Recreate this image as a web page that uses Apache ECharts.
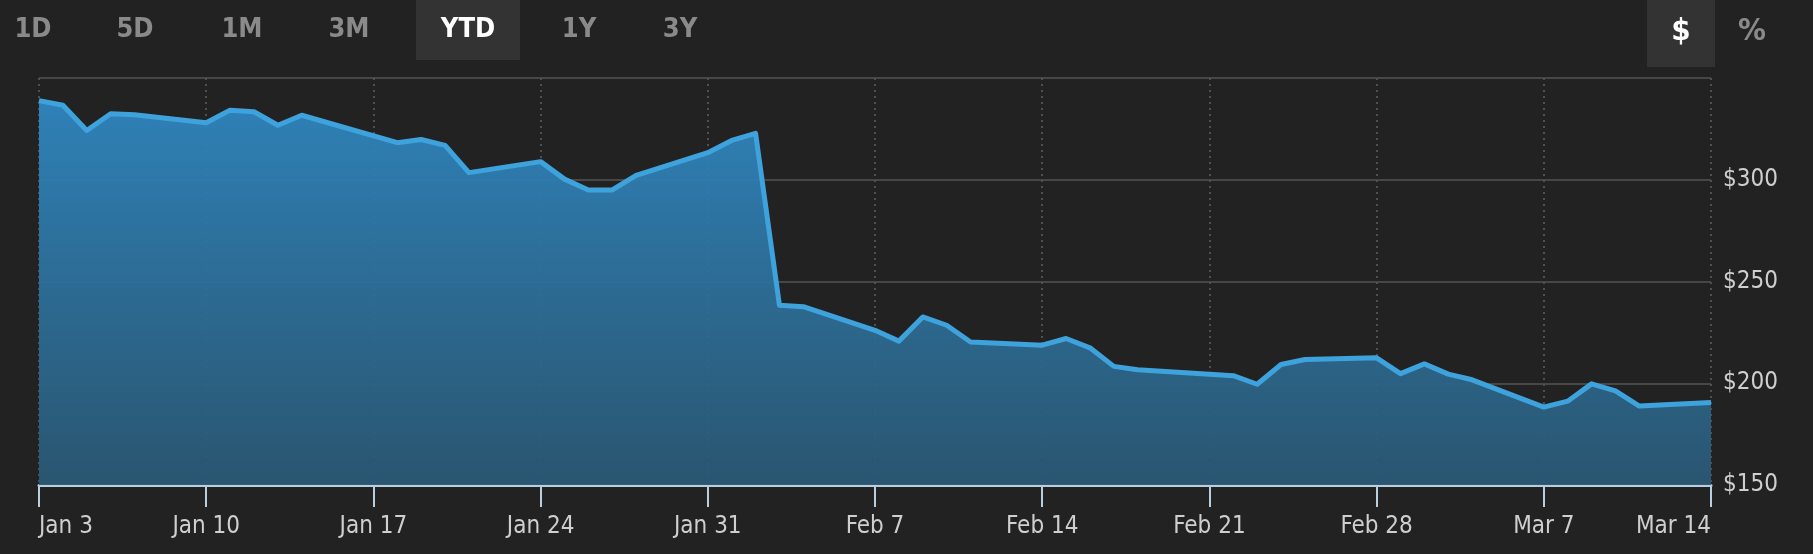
<!DOCTYPE html>
<html>
<head>
<meta charset="utf-8">
<script src="https://cdn.jsdelivr.net/npm/echarts@6/dist/echarts.min.js"></script>
<style>
html,body{margin:0;padding:0;background:#222222;}
#chart{width:1813px;height:554px;}
</style>
</head>
<body>
<div id="chart"></div>
<script>
// ---- data ----
const dates = [
  '2022-01-03','2022-01-04','2022-01-05','2022-01-06','2022-01-07',
  '2022-01-10','2022-01-11','2022-01-12','2022-01-13','2022-01-14',
  '2022-01-18','2022-01-19','2022-01-20','2022-01-21',
  '2022-01-24','2022-01-25','2022-01-26','2022-01-27','2022-01-28',
  '2022-01-31','2022-02-01','2022-02-02','2022-02-03','2022-02-04',
  '2022-02-07','2022-02-08','2022-02-09','2022-02-10','2022-02-11',
  '2022-02-14','2022-02-15','2022-02-16','2022-02-17','2022-02-18',
  '2022-02-22','2022-02-23','2022-02-24','2022-02-25',
  '2022-02-28','2022-03-01','2022-03-02','2022-03-03','2022-03-04',
  '2022-03-07','2022-03-08','2022-03-09','2022-03-10','2022-03-11',
  '2022-03-14'
];
const prices = [
  338.9, 336.6, 324.2, 332.4, 331.9,
  328.0, 334.2, 333.4, 326.8, 331.7,
  318.2, 319.8, 316.9, 303.5,
  308.9, 300.3, 295.0, 295.0, 302.2,
  313.3, 319.3, 322.8, 238.3, 237.6,
  226.0, 220.7, 232.6, 228.5, 220.3,
  218.7, 222.0, 217.4, 208.3, 206.6,
  203.7, 199.5, 209.2, 211.7,
  212.5, 204.7, 209.5, 204.5, 201.7,
  188.3, 191.2, 199.7, 196.3, 188.8,
  190.5
];
const xTickLabels = ['Jan 3','Jan 10','Jan 17','Jan 24','Jan 31','Feb 7','Feb 14','Feb 21','Feb 28','Mar 7','Mar 14'];
const yTicks = [150, 200, 250, 300, 350];
const rangeButtons = ['1D','5D','1M','3M','YTD','1Y','3Y'];
const activeRange = 'YTD';
const unitButtons = ['$','%'];
const activeUnit = '$';

// ---- build ----
const DAY = 86400000;
const t0 = Date.parse(dates[0]);
const seriesData = dates.map((d, i) => [(Date.parse(d) - t0) / DAY, prices[i]]);
const xMax = (xTickLabels.length - 1) * 7;

const labelFont = "'DejaVu Sans Condensed', 'Liberation Sans Narrow', sans-serif";
const btnFont = "'DejaVu Sans Condensed', 'Liberation Sans Narrow', sans-serif";

const btnX = [33, 135, 242, 349, 468, 579, 680];
const unitX = [1681, 1752];
const graphics = [];
rangeButtons.forEach((b, i) => {
  if (b === activeRange) {
    graphics.push({type:'rect', left: btnX[i]-52, top: 0, shape:{width:104, height:60}, style:{fill:'#333333'}, z:1});
  }
  graphics.push({type:'text', x: btnX[i], y: 30, z:2, style:{
    text: b, fill: b === activeRange ? '#ffffff' : '#8a8a8a',
    font: 'bold 27px ' + btnFont, textAlign:'center', textVerticalAlign:'middle'
  }});
});
unitButtons.forEach((b, i) => {
  if (b === activeUnit) {
    graphics.push({type:'rect', left: unitX[i]-34, top: 0, shape:{width:68, height:67}, style:{fill:'#333333'}, z:1});
  }
  graphics.push({type:'text', x: unitX[i], y: 32, z:2, style:{
    text: b, fill: b === activeUnit ? '#ffffff' : '#8a8a8a',
    font: 'bold 31px ' + btnFont, textAlign:'center', textVerticalAlign:'middle'
  }});
});

const chart = echarts.init(document.getElementById('chart'), null, {renderer:'canvas'});
chart.setOption({
  backgroundColor: '#222222',
  animation: false,
  graphic: graphics,
  grid: {left: 39, right: 102, top: 78, bottom: 69, containLabel: false},
  xAxis: {
    type: 'value', min: 0, max: xMax, interval: 7,
    axisLine: {show: true, lineStyle: {color: '#b9cede', width: 3}},
    axisTick: {show: true, length: 22, inside: false, lineStyle: {color: '#b9cede', width: 2}},
    axisLabel: {
      color: '#cfcfcf', fontSize: 24, fontFamily: labelFont, margin: 30,
      alignMinLabel: 'left', alignMaxLabel: 'right',
      formatter: v => xTickLabels[Math.round(v / 7)] || ''
    },
    splitLine: {show: true, lineStyle: {color: '#505050', width: 2, type: [2, 4]}}
  },
  yAxis: {
    type: 'value', position: 'right',
    min: yTicks[0], max: yTicks[yTicks.length - 1], interval: 50,
    axisLine: {show: false}, axisTick: {show: false},
    axisLabel: {
      color: '#cfcfcf', fontSize: 24, fontFamily: labelFont, margin: 12,
      formatter: v => (v === yTicks[yTicks.length - 1]) ? '' : '$' + v
    },
    splitLine: {show: true, lineStyle: {color: '#474747', width: 2}}
  },
  series: [{
    type: 'line',
    data: seriesData,
    symbol: 'none',
    lineStyle: {color: '#3ea3dc', width: 5, join: 'round'},
    areaStyle: {
      opacity: 1,
      color: new echarts.graphic.LinearGradient(0, 0, 0, 1, [
        {offset: 0, color: 'rgba(47,134,192,0.95)'},
        {offset: 0.5, color: 'rgba(45,110,152,0.95)'},
        {offset: 1, color: 'rgba(42,88,116,0.95)'}
      ])
    },
    z: 3
  }]
});
</script>
</body>
</html>
